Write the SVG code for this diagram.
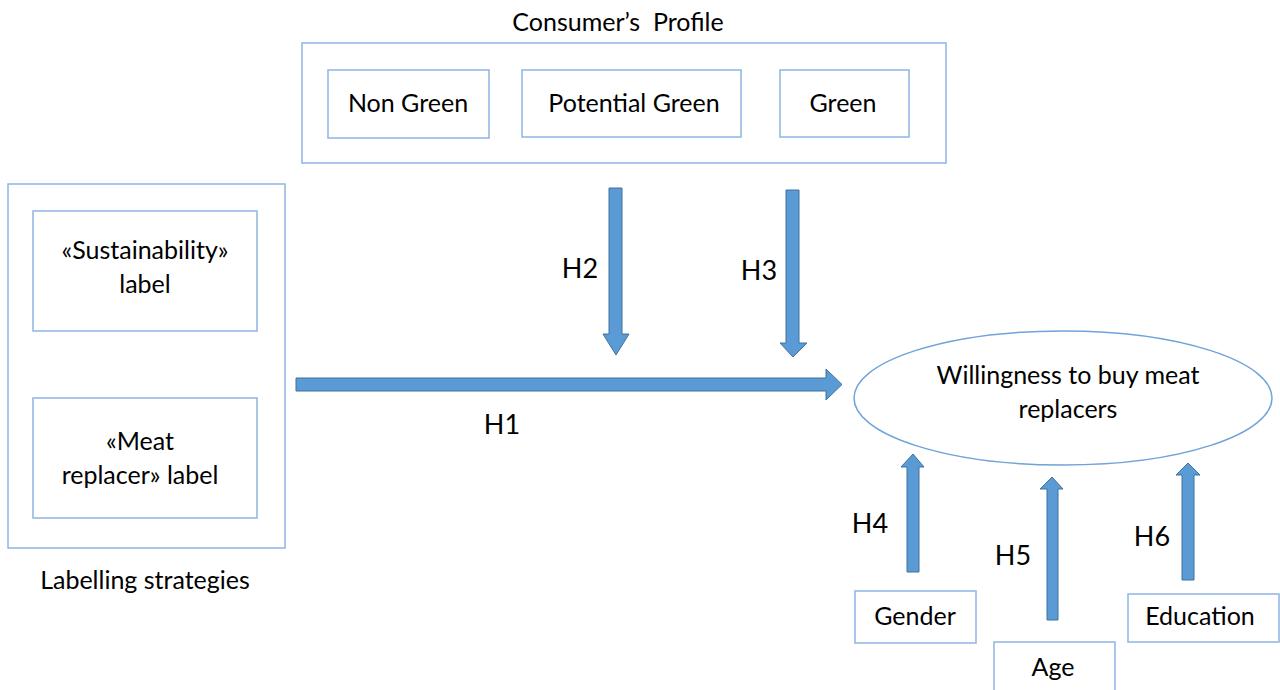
<svg xmlns="http://www.w3.org/2000/svg" width="1280" height="690" viewBox="0 0 1280 690">
<style>
.box{fill:#fff;stroke:#8EB4E3;stroke-width:1.5}
.t{font-family:Lato,"Open Sans","Liberation Sans",sans-serif;font-size:25px;fill:#000;text-anchor:middle}
.h{font-family:Lato,"Open Sans","Liberation Sans",sans-serif;font-size:27px;fill:#000;text-anchor:middle}
.arr{fill:#5B9BD5;stroke:#41719C;stroke-width:1}
</style>
<rect width="1280" height="690" fill="#fff"/>
<g id="consumer-profile">
<text class="t" x="618" y="31" xml:space="preserve">Consumer’s  Profile</text>
<rect class="box" x="302" y="43" width="644" height="120"/>
</g>
<g id="non-green"><rect class="box" x="328" y="70" width="161" height="68"/><text class="t" x="408" y="112">Non Green</text></g>
<g id="potential-green"><rect class="box" x="522" y="70" width="219" height="67"/><text class="t" x="634" y="112">Potential Green</text></g>
<g id="green"><rect class="box" x="780" y="70" width="129" height="67"/><text class="t" x="843" y="112">Green</text></g>
<g id="labelling-strategies">
<rect class="box" x="8" y="184" width="277" height="364"/>
<text class="t" x="145" y="589">Labelling strategies</text>
</g>
<g id="sustainability-label"><rect class="box" x="33" y="211" width="224" height="120"/><text class="t" x="145" y="259">«Sustainability»</text><text class="t" x="145" y="293">label</text></g>
<g id="meat-replacer-label"><rect class="box" x="33" y="398" width="224" height="120"/><text class="t" x="140" y="450">«Meat</text><text class="t" x="140" y="484">replacer» label</text></g>
<g id="willingness"><ellipse cx="1063" cy="398" rx="209" ry="67" fill="#fff" stroke="#6FA3DA" stroke-width="1.5"/><text class="t" x="1068" y="384">Willingness to buy meat</text><text class="t" x="1068" y="418">replacers</text></g>
<g id="gender"><rect class="box" x="855" y="591" width="121" height="52"/><text class="t" x="915" y="625">Gender</text></g>
<g id="age"><rect class="box" x="994" y="642" width="121" height="60"/><text class="t" x="1053" y="676">Age</text></g>
<g id="education"><rect class="box" x="1128" y="594" width="151" height="48"/><text class="t" x="1200" y="625">Education</text></g>
<g id="connectors">
<polygon class="arr" points="296,378 826,378 826,369 842,384.5 826,400 826,391 296,391"/>
<polygon class="arr" points="609,188 622,188 622,334 629,334 616,355 603,334 609,334"/>
<polygon class="arr" points="786,190 799,190 799,343 807,343 793,357 780,343 786,343"/>
<polygon class="arr" points="907,572 919,572 919,467 924,467 913,454 901,467 907,467"/>
<polygon class="arr" points="1047,620 1058,620 1058,489 1063,489 1052,477 1040,489 1047,489"/>
<polygon class="arr" points="1182,580 1194,580 1194,475 1200,475 1188,463 1176,475 1182,475"/>
<text class="h" x="502" y="434">H1</text>
<text class="h" x="580" y="278">H2</text>
<text class="h" x="759" y="280">H3</text>
<text class="h" x="870" y="533">H4</text>
<text class="h" x="1013" y="565">H5</text>
<text class="h" x="1152" y="546">H6</text>
</g>
</svg>
